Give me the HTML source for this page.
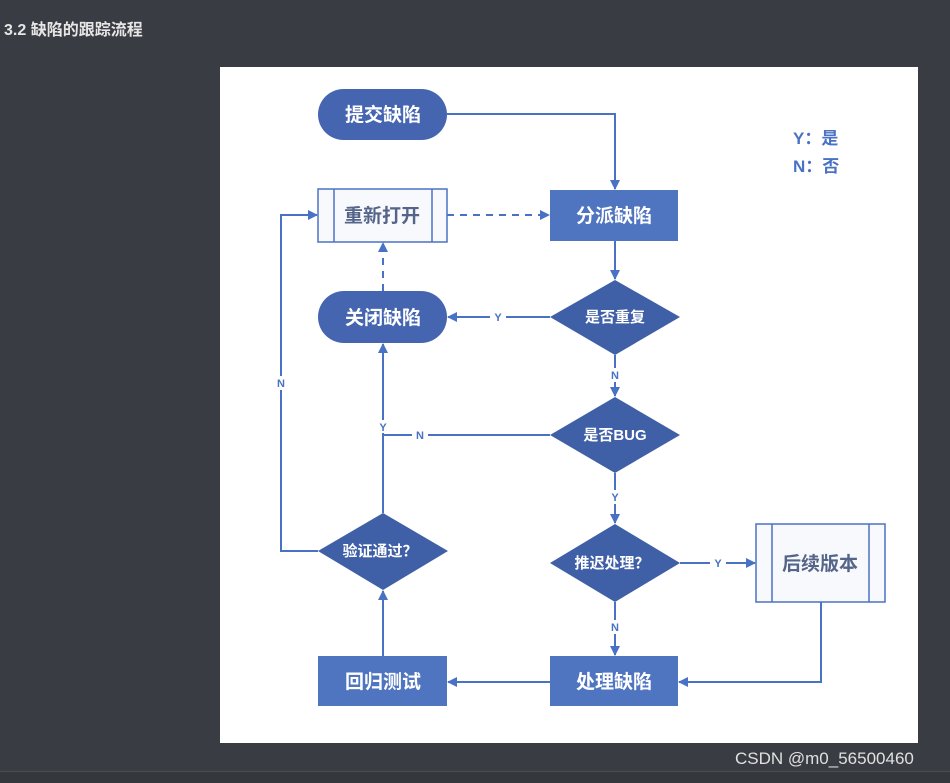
<!DOCTYPE html>
<html><head><meta charset="utf-8"><style>
body{margin:0;width:950px;height:782px;background:#393c42;overflow:hidden;font-family:"Liberation Sans","Noto Sans CJK SC",sans-serif;}
.t{position:absolute;left:4px;top:16px;color:#e6e6e6;font-size:16px;font-weight:bold;}
.wm{position:absolute;left:735px;top:749px;color:#e0e0e0;font-size:17px;}
.bar{position:absolute;left:0;top:771px;width:950px;height:11px;background:#34373c;border-top:1px solid #4a4d52;}
</style></head><body>
<div class="t">3.2 缺陷的跟踪流程</div>
<svg width="950" height="782" style="position:absolute;left:0;top:0">
<defs><marker id="a" markerWidth="10" markerHeight="10" refX="9" refY="5" orient="auto" markerUnits="userSpaceOnUse"><path d="M0,0 L10,5 L0,10 z" fill="#4a72c4"/></marker></defs>
<rect x="220" y="67" width="698" height="676" fill="#fff"/>
<g stroke="#4a72c4" stroke-width="2" fill="none">
<polyline points="447,114 615,114 615,189" marker-end="url(#a)"/>
<line x1="615" y1="241" x2="615" y2="279" marker-end="url(#a)"/>
<line x1="550" y1="317" x2="448" y2="317" marker-end="url(#a)"/>
<line x1="615" y1="355" x2="615" y2="396" marker-end="url(#a)"/>
<line x1="550" y1="435" x2="383" y2="435"/>
<line x1="383" y1="513" x2="383" y2="344" marker-end="url(#a)"/>
<line x1="615" y1="473" x2="615" y2="523" marker-end="url(#a)"/>
<line x1="680" y1="563" x2="755" y2="563" marker-end="url(#a)"/>
<line x1="615" y1="602" x2="615" y2="655" marker-end="url(#a)"/>
<polyline points="821,602 821,682 679,682" marker-end="url(#a)"/>
<line x1="550" y1="682" x2="448" y2="682" marker-end="url(#a)"/>
<line x1="383" y1="656" x2="383" y2="591" marker-end="url(#a)"/>
<polyline points="318,551 281,551 281,215 317,215" marker-end="url(#a)"/>
<line x1="383" y1="291" x2="383" y2="243" stroke-dasharray="7,6" marker-end="url(#a)"/>
<line x1="447" y1="215" x2="549" y2="215" stroke-dasharray="7,6" marker-end="url(#a)"/>
</g>
<g font-size="11" font-weight="bold" fill="#4a72c4" text-anchor="middle">
<rect x="490" y="310" width="16" height="14" fill="#fff"/><text x="498" y="321">Y</text>
<rect x="607" y="368" width="16" height="14" fill="#fff"/><text x="615" y="379">N</text>
<rect x="412" y="428" width="16" height="14" fill="#fff"/><text x="420" y="439">N</text>
<rect x="376" y="420" width="14" height="13" fill="#fff"/><text x="383" y="431">Y</text>
<rect x="607" y="490" width="16" height="14" fill="#fff"/><text x="615" y="501">Y</text>
<rect x="710" y="556" width="16" height="14" fill="#fff"/><text x="718" y="567">Y</text>
<rect x="607" y="620" width="16" height="14" fill="#fff"/><text x="615" y="631">N</text>
<rect x="273" y="376" width="16" height="14" fill="#fff"/><text x="281" y="387">N</text>
</g>
<g fill="#4a6db8">
<rect x="318" y="89" width="129" height="51" rx="25.5" fill="#4565b0"/>
<rect x="318" y="291" width="129" height="52" rx="26" fill="#4565b0"/>
<rect x="550" y="190" width="128" height="51" fill="#4f74c0"/>
<rect x="318" y="656" width="129" height="50" fill="#4f74c0"/>
<rect x="550" y="656" width="128" height="50" fill="#4f74c0"/>
<polygon points="615,280 680,317 615,355 550,317" fill="#3f5fa6"/>
<polygon points="615,397 680,435 615,473 550,435" fill="#3f5fa6"/>
<polygon points="615,524 680,563 615,602 550,563" fill="#3f5fa6"/>
<polygon points="383,513 448,551 383,590 318,551" fill="#3f5fa6"/>
</g>
<g fill="#f8f9fc" stroke="#4a72c4" stroke-width="1.5">
<rect x="318" y="189" width="129" height="53"/>
<line x1="334" y1="189" x2="334" y2="242"/><line x1="432" y1="189" x2="432" y2="242"/>
<rect x="756" y="524" width="129" height="78"/>
<line x1="772" y1="524" x2="772" y2="602"/><line x1="869" y1="524" x2="869" y2="602"/>
</g>
<g font-family="Liberation Sans,Noto Sans CJK SC,sans-serif" font-weight="bold" text-anchor="middle" font-size="19" fill="#fff">
<text x="383" y="121">提交缺陷</text>
<text x="614" y="222">分派缺陷</text>
<text x="383" y="324">关闭缺陷</text>
<text x="383" y="688">回归测试</text>
<text x="614" y="688">处理缺陷</text>
<text x="382" y="222" fill="#55658a">重新打开</text>
<text x="820" y="570" fill="#55658a">后续版本</text>
<g font-size="15"><text x="615" y="322">是否重复</text><text x="615" y="440">是否BUG</text><text x="612" y="568">推迟处理？</text><text x="380" y="556">验证通过？</text></g>
<g font-size="17" fill="#4a72c4" text-anchor="start"><text x="793" y="144">Y：是</text><text x="793" y="172">N：否</text></g>
</g>
</svg>
<div class="wm">CSDN @m0_56500460</div>
<div class="bar"></div>
</body></html>
